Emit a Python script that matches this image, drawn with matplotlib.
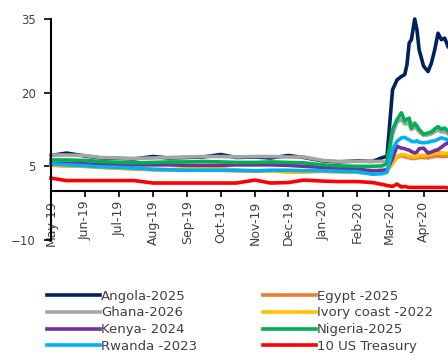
import matplotlib
matplotlib.use("Agg")
import matplotlib.pyplot as plt
import matplotlib.dates as mdates
from matplotlib.lines import Line2D
import pandas as pd

plt.rcParams["font.family"] = ["DejaVu Sans"]

dates = pd.to_datetime([
    "2019-05-01", "2019-05-15", "2019-06-01", "2019-06-15", "2019-07-01", "2019-07-15",
    "2019-08-01", "2019-08-15", "2019-09-01", "2019-09-15", "2019-10-01", "2019-10-15",
    "2019-11-01", "2019-11-15", "2019-12-01", "2019-12-15", "2020-01-01", "2020-01-15",
    "2020-02-01", "2020-02-15", "2020-02-24",
    "2020-02-28", "2020-03-04", "2020-03-08", "2020-03-12", "2020-03-15", "2020-03-17",
    "2020-03-19", "2020-03-21", "2020-03-24", "2020-03-26", "2020-03-28", "2020-04-01",
    "2020-04-05", "2020-04-08", "2020-04-11", "2020-04-14", "2020-04-17", "2020-04-20",
    "2020-04-23",
])

angola = [7.2, 7.7, 7.1, 6.7, 6.6, 6.5, 7.0, 6.7, 6.8, 6.9, 7.4, 6.8, 6.9, 6.7, 7.2, 6.8,
          6.1, 5.9, 6.1, 6.0, 6.8,
          7.0, 20.6, 22.6, 23.3, 23.7, 25.7, 30.1, 30.8, 35.0, 32.8, 28.7, 25.4, 24.3, 26.0,
          28.7, 32.1, 30.8, 31.1, 29.4]
egypt = [5.2, 5.1, 5.0, 4.8, 4.6, 4.5, 4.3, 4.3, 4.2, 4.2, 4.2, 4.1, 4.0, 4.1, 4.1, 4.0,
         4.0, 3.9, 3.8, 3.6, 3.7,
         4.2, 5.8, 6.8, 7.2, 7.0, 6.8, 6.8, 6.6, 6.6, 6.7, 6.8, 6.8, 6.7, 6.9, 7.0, 7.1,
         7.0, 7.0, 7.1]
ghana = [7.3, 7.3, 7.2, 6.8, 6.7, 6.6, 6.7, 6.8, 6.9, 7.0, 7.0, 6.9, 7.0, 7.0, 6.9, 6.9,
         6.2, 6.0, 6.0, 6.0, 6.0,
         6.0, 11.5, 14.0, 14.5, 13.6, 13.8, 13.5, 12.5, 13.0, 12.6, 12.0, 11.3, 11.4, 11.6,
         12.0, 12.4, 12.0, 12.0, 11.6]
ivory = [5.3, 5.1, 5.0, 4.8, 4.7, 4.5, 4.4, 4.3, 4.6, 4.7, 4.6, 4.2, 4.1, 4.1, 3.8, 3.8,
         4.0, 3.9, 3.8, 3.5, 3.7,
         4.0, 5.5, 7.0, 7.4, 7.4, 7.2, 7.0, 7.0, 6.9, 7.0, 7.2, 7.2, 7.3, 7.5, 7.7, 7.8,
         7.8, 7.6, 7.7]
kenya = [5.6, 5.6, 5.5, 5.4, 5.3, 5.3, 5.3, 5.3, 5.2, 5.2, 5.2, 5.3, 5.3, 5.3, 5.2, 5.0,
         4.8, 4.6, 4.4, 4.1, 4.2,
         4.3, 6.6, 9.1, 8.7, 8.6, 8.4, 8.3, 8.0, 7.7, 7.9, 8.6, 8.7, 7.7, 7.9, 8.2, 8.4,
         8.9, 9.4, 9.8]
nigeria = [6.3, 6.3, 6.2, 6.0, 5.8, 5.7, 5.8, 5.9, 5.9, 6.0, 5.9, 5.8, 5.8, 5.9, 5.8, 5.7,
           5.3, 5.1, 5.0, 5.0, 5.1,
           5.6, 12.5, 14.5, 15.9, 14.2, 14.6, 14.8, 12.8, 13.8, 13.2, 12.5, 11.5, 11.8, 12.0,
           12.6, 13.1, 12.5, 12.8, 12.1]
rwanda = [5.5, 5.3, 5.1, 4.9, 4.8, 4.6, 4.4, 4.3, 4.2, 4.2, 4.2, 4.2, 4.1, 4.2, 4.2, 4.1,
          4.1, 4.0, 3.9, 3.4, 3.5,
          3.8, 8.5, 10.1, 10.8, 10.9, 10.6, 10.4, 10.1, 10.0, 10.2, 9.9, 9.8, 9.9, 10.1,
          10.2, 10.5, 10.8, 10.6, 10.4]
treasury = [2.6, 2.1, 2.1, 2.1, 2.1, 2.1, 1.6, 1.6, 1.6, 1.6, 1.6, 1.6, 2.2, 1.6, 1.7, 2.2,
            2.0, 1.9, 1.9, 1.7, 1.3,
            1.1, 0.9, 1.4, 0.8, 0.9, 0.8, 0.7, 0.7, 0.7, 0.7, 0.7, 0.7, 0.7, 0.7, 0.7, 0.7,
            0.7, 0.7, 0.6]

# plotting order as in the source sheet, legend laid out column by column
series = [
    ("Angola-2025", angola, "#002060"),
    ("Egypt -2025", egypt, "#ED7D31"),
    ("Ghana-2026", ghana, "#A5A5A5"),
    ("Ivory coast -2022", ivory, "#FFC000"),
    ("Kenya- 2024", kenya, "#7030A0"),
    ("Nigeria-2025", nigeria, "#00B050"),
    ("Rwanda -2023", rwanda, "#00B0F0"),
    ("10 US Treasury", treasury, "#FF0000"),
]
col1 = ["Angola-2025", "Ghana-2026", "Kenya- 2024", "Rwanda -2023"]
col2 = ["Egypt -2025", "Ivory coast -2022", "Nigeria-2025", "10 US Treasury"]
yticks = [-10, 5, 20, 35]
text_col = "#404040"

fig = plt.figure(figsize=(4.48, 3.56), dpi=100)
ax = fig.add_axes([51 / 448, 116 / 356, 397 / 448, 221 / 356])

handles = {}
for name, vals, col in series:
    ax.plot(dates, vals, color=col, lw=2.6, clip_on=False, solid_joinstyle="round")
    handles[name] = Line2D([], [], color=col, lw=2.6)

ax.set_ylim(-10, 35)
ax.set_yticks(yticks)
ax.set_xlim(pd.Timestamp("2019-05-01"), pd.Timestamp("2020-04-23"))
ax.xaxis.set_major_locator(mdates.MonthLocator())
ax.xaxis.set_major_formatter(mdates.DateFormatter("%b-%y"))

for s in ["top", "right"]:
    ax.spines[s].set_visible(False)
ax.spines["bottom"].set_position(("data", 0))
ax.spines["bottom"].set_linewidth(1.5)
ax.spines["left"].set_linewidth(1.5)
ax.tick_params(axis="y", length=5, width=1.2, pad=6, labelsize=8.5, labelcolor=text_col)
ax.tick_params(axis="x", length=4, width=1.2, pad=3, labelsize=9, labelcolor=text_col,
               labelrotation=90)

for names, x0 in [(col1, 47 / 448), (col2, 263 / 448)]:
    fig.legend([handles[n] for n in names], names, loc="upper left",
               bbox_to_anchor=(x0, 0.186), frameon=False, fontsize=9.5,
               handlelength=4.0, handletextpad=0.1, labelspacing=0.28,
               borderpad=0, borderaxespad=0, labelcolor=text_col)

fig.savefig("out.png", dpi=100)
